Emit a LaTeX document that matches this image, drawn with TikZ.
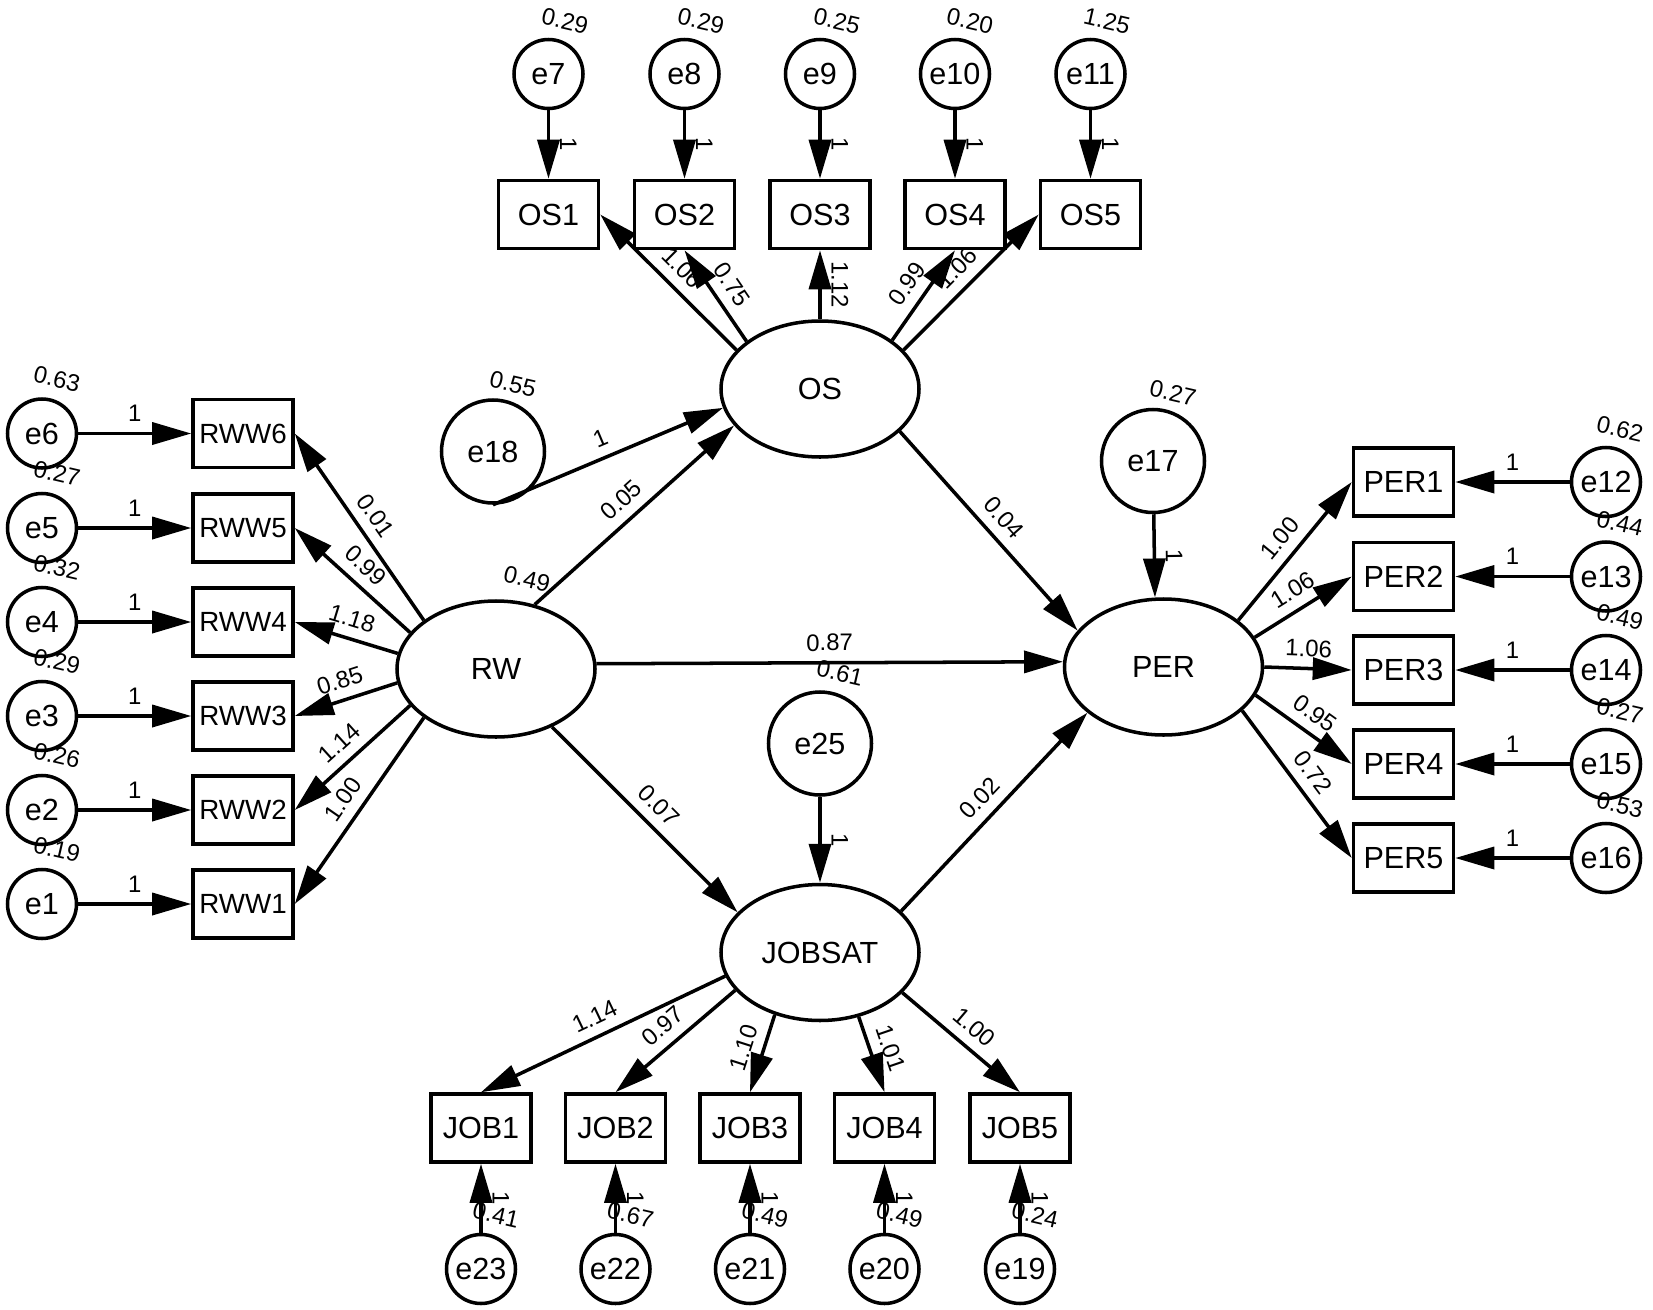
\documentclass[tikz,border=0pt]{standalone}
\usepackage{fontspec}
\setmainfont{Liberation Sans}
\usetikzlibrary{shapes.geometric,arrows.meta}

\begin{document}
\begin{tikzpicture}[
    font=\fontsize{8.7}{10}\selectfont,
    line width=1pt,
    >={Triangle[length=0.39cm,width=0.22cm]},
    latent/.style={draw, ellipse, minimum width=1.98cm, minimum height=1.36cm, inner sep=0pt},
    ind/.style={draw, rectangle, minimum width=1cm, minimum height=0.68cm, inner sep=0pt},
    err/.style={draw, circle, minimum size=0.69cm, inner sep=0pt},
    bigerr/.style={draw, circle, minimum size=1.03cm, inner sep=0pt},
    est/.style={font=\fontsize{6.8}{8}\selectfont, sloped, above, inner sep=2.8pt},
    var/.style={font=\fontsize{6.8}{8}\selectfont, rotate=-13, inner sep=0pt}
]
    \useasboundingbox (0,0) rectangle (16.53,-13.10);

    % Draw latent variables
    \node[latent] (OS) at (8.20,-3.89) {OS};
    \node[latent] (RW) at (4.96,-6.69) {RW};
    \node[latent] (PER) at (11.635,-6.67) {PER};
    \node[latent] (JOBSAT) at (8.20,-9.525) {JOBSAT};

    % Draw disturbances
    \node[bigerr] (e18) at (4.93,-4.515) {e18};
    \node[bigerr] (e17) at (11.53,-4.61) {e17};
    \node[bigerr] (e25) at (8.20,-7.435) {e25};
    \node[var] (v18) at (5.13,-3.84) {0.55};
    \node[var] (v17) at (11.73,-3.93) {0.27};
    \node[var] (v25) at (8.40,-6.73) {0.61};
    \node[var] (vRW) at (5.27,-5.79) {0.49};

    % Draw OS indicators
    \node[ind] (OS1) at (5.485,-2.145) {OS1};
    \node[ind] (OS2) at (6.845,-2.145) {OS2};
    \node[ind] (OS3) at (8.20,-2.145) {OS3};
    \node[ind] (OS4) at (9.55,-2.145) {OS4};
    \node[ind] (OS5) at (10.905,-2.145) {OS5};

    \node[err] (e7) at (5.485,-0.74) {e7};
    \node[err] (e8) at (6.845,-0.74) {e8};
    \node[err] (e9) at (8.20,-0.74) {e9};
    \node[err] (e10) at (9.55,-0.74) {e10};
    \node[err] (e11) at (10.905,-0.74) {e11};
    \node[var] (v7) at (5.65,-0.21) {0.29};
    \node[var] (v8) at (7.01,-0.21) {0.29};
    \node[var] (v9) at (8.37,-0.21) {0.25};
    \node[var] (v10) at (9.70,-0.21) {0.20};
    \node[var] (v11) at (11.07,-0.21) {1.25};

    % Draw RW indicators
    \node[ind, font=\fontsize{7.9}{9}\selectfont] (RWW6) at (2.43,-4.335) {RWW6};
    \node[ind, font=\fontsize{7.9}{9}\selectfont] (RWW5) at (2.43,-5.28) {RWW5};
    \node[ind, font=\fontsize{7.9}{9}\selectfont] (RWW4) at (2.43,-6.22) {RWW4};
    \node[ind, font=\fontsize{7.9}{9}\selectfont] (RWW3) at (2.43,-7.16) {RWW3};
    \node[ind, font=\fontsize{7.9}{9}\selectfont] (RWW2) at (2.43,-8.10) {RWW2};
    \node[ind, font=\fontsize{7.9}{9}\selectfont] (RWW1) at (2.43,-9.04) {RWW1};

    \node[err] (e6) at (0.42,-4.335) {e6};
    \node[err] (e5) at (0.42,-5.28) {e5};
    \node[err] (e4) at (0.42,-6.22) {e4};
    \node[err] (e3) at (0.42,-7.16) {e3};
    \node[err] (e2) at (0.42,-8.10) {e2};
    \node[err] (e1) at (0.42,-9.04) {e1};
    \node[var] (v6) at (0.57,-3.79) {0.63};
    \node[var] (v5) at (0.57,-4.735) {0.27};
    \node[var] (v4) at (0.57,-5.675) {0.32};
    \node[var] (v3) at (0.57,-6.615) {0.29};
    \node[var] (v2) at (0.57,-7.555) {0.26};
    \node[var] (v1) at (0.57,-8.495) {0.19};

    % Draw PER indicators
    \node[ind] (PER1) at (14.035,-4.82) {PER1};
    \node[ind] (PER2) at (14.035,-5.765) {PER2};
    \node[ind] (PER3) at (14.035,-6.70) {PER3};
    \node[ind] (PER4) at (14.035,-7.64) {PER4};
    \node[ind] (PER5) at (14.035,-8.58) {PER5};

    \node[err] (e12) at (16.06,-4.82) {e12};
    \node[err] (e13) at (16.06,-5.765) {e13};
    \node[err] (e14) at (16.06,-6.70) {e14};
    \node[err] (e15) at (16.06,-7.64) {e15};
    \node[err] (e16) at (16.06,-8.58) {e16};
    \node[var] (v12) at (16.20,-4.29) {0.62};
    \node[var] (v13) at (16.20,-5.235) {0.44};
    \node[var] (v14) at (16.20,-6.17) {0.49};
    \node[var] (v15) at (16.20,-7.11) {0.27};
    \node[var] (v16) at (16.20,-8.05) {0.53};

    % Draw JOBSAT indicators
    \node[ind] (JOB1) at (4.81,-11.28) {JOB1};
    \node[ind] (JOB2) at (6.155,-11.28) {JOB2};
    \node[ind] (JOB3) at (7.50,-11.28) {JOB3};
    \node[ind] (JOB4) at (8.845,-11.28) {JOB4};
    \node[ind] (JOB5) at (10.20,-11.28) {JOB5};

    \node[err] (e23) at (4.81,-12.69) {e23};
    \node[err] (e22) at (6.155,-12.69) {e22};
    \node[err] (e21) at (7.50,-12.69) {e21};
    \node[err] (e20) at (8.845,-12.69) {e20};
    \node[err] (e19) at (10.20,-12.69) {e19};
    \node[var] (v23) at (4.96,-12.15) {0.41};
    \node[var] (v22) at (6.305,-12.15) {0.67};
    \node[var] (v21) at (7.65,-12.15) {0.49};
    \node[var] (v20) at (8.995,-12.15) {0.49};
    \node[var] (v19) at (10.35,-12.15) {0.24};

    % Draw structural paths
    \draw[->] (RW.59) -- node[est] {0.05} (OS.203);
    \draw[->] (RW.3) -- node[est] {0.87} (PER.177);
    \draw[->] (RW.-46) -- node[est] {0.07} (JOBSAT.154);
    \draw[->] (OS.-28) -- node[est] {0.04} (PER.157);
    \draw[->] (JOBSAT.27) -- node[est] {0.02} (PER.211);

    \draw[->] (e18.south) -- node[est] {1} (OS.191);
    \draw[->] (e17) -- node[est] {1} (PER.97);
    \draw[->] (e25) -- node[est] {1} (JOBSAT);

    % Draw OS loadings
    \draw[->] (OS.155) -- node[est] {1.06} (OS1.east);
    \draw[->] (OS.147) -- node[est] {0.75} (OS2.south);
    \draw[<-] (OS3.south) -- node[est] {1.12} (OS.north);
    \draw[->] (OS.34) -- node[est] {0.99} (OS4.south);
    \draw[->] (OS.25) -- node[est] {1.06} (OS5.west);

    \draw[->] (e7) -- node[est] {1} (OS1);
    \draw[->] (e8) -- node[est] {1} (OS2);
    \draw[->] (e9) -- node[est] {1} (OS3);
    \draw[->] (e10) -- node[est] {1} (OS4);
    \draw[->] (e11) -- node[est] {1} (OS5);

    % Draw RW loadings
    \draw[->] (RW.146) -- node[est] {0.01} (RWW6.east);
    \draw[->] (RW.157) -- node[est] {0.99} (RWW5.east);
    \draw[->] (RW.171) -- node[est] {1.18} (RWW4.east);
    \draw[->] (RW.188) -- node[est] {0.85} (RWW3.east);
    \draw[->] (RW.203) -- node[est] {1.14} (RWW2.east);
    \draw[->] (RW.214) -- node[est] {1.00} (RWW1.east);

    \draw[->] (e6) -- node[est] {1} (RWW6);
    \draw[->] (e5) -- node[est] {1} (RWW5);
    \draw[->] (e4) -- node[est] {1} (RWW4);
    \draw[->] (e3) -- node[est] {1} (RWW3);
    \draw[->] (e2) -- node[est] {1} (RWW2);
    \draw[->] (e1) -- node[est] {1} (RWW1);

    % Draw PER loadings
    \draw[->] (PER.32) -- node[est] {1.00} (PER1.west);
    \draw[->] (PER.18) -- node[est] {1.06} (PER2.west);
    \draw[->] (PER.east) -- node[est] {1.06} (PER3.west);
    \draw[->] (PER.-17) -- node[est] {0.95} (PER4.west);
    \draw[->] (PER.-29) -- node[est] {0.72} (PER5.west);

    \draw[->] (e12) -- node[est] {1} (PER1);
    \draw[->] (e13) -- node[est] {1} (PER2);
    \draw[->] (e14) -- node[est] {1} (PER3);
    \draw[->] (e15) -- node[est] {1} (PER4);
    \draw[->] (e16) -- node[est] {1} (PER5);

    % Draw JOBSAT loadings
    \draw[->] (JOBSAT.194) -- node[est] {1.14} (JOB1.north);
    \draw[->] (JOBSAT.204) -- node[est] {0.97} (JOB2.north);
    \draw[->] (JOBSAT.234) -- node[est] {1.10} (JOB3.north);
    \draw[->] (JOBSAT.301) -- node[est] {1.01} (JOB4.north);
    \draw[->] (JOBSAT.334) -- node[est] {1.00} (JOB5.north);

    \draw[<-] (JOB1) -- node[est] {1} (e23);
    \draw[<-] (JOB2) -- node[est] {1} (e22);
    \draw[<-] (JOB3) -- node[est] {1} (e21);
    \draw[<-] (JOB4) -- node[est] {1} (e20);
    \draw[<-] (JOB5) -- node[est] {1} (e19);
\end{tikzpicture}
\end{document}
